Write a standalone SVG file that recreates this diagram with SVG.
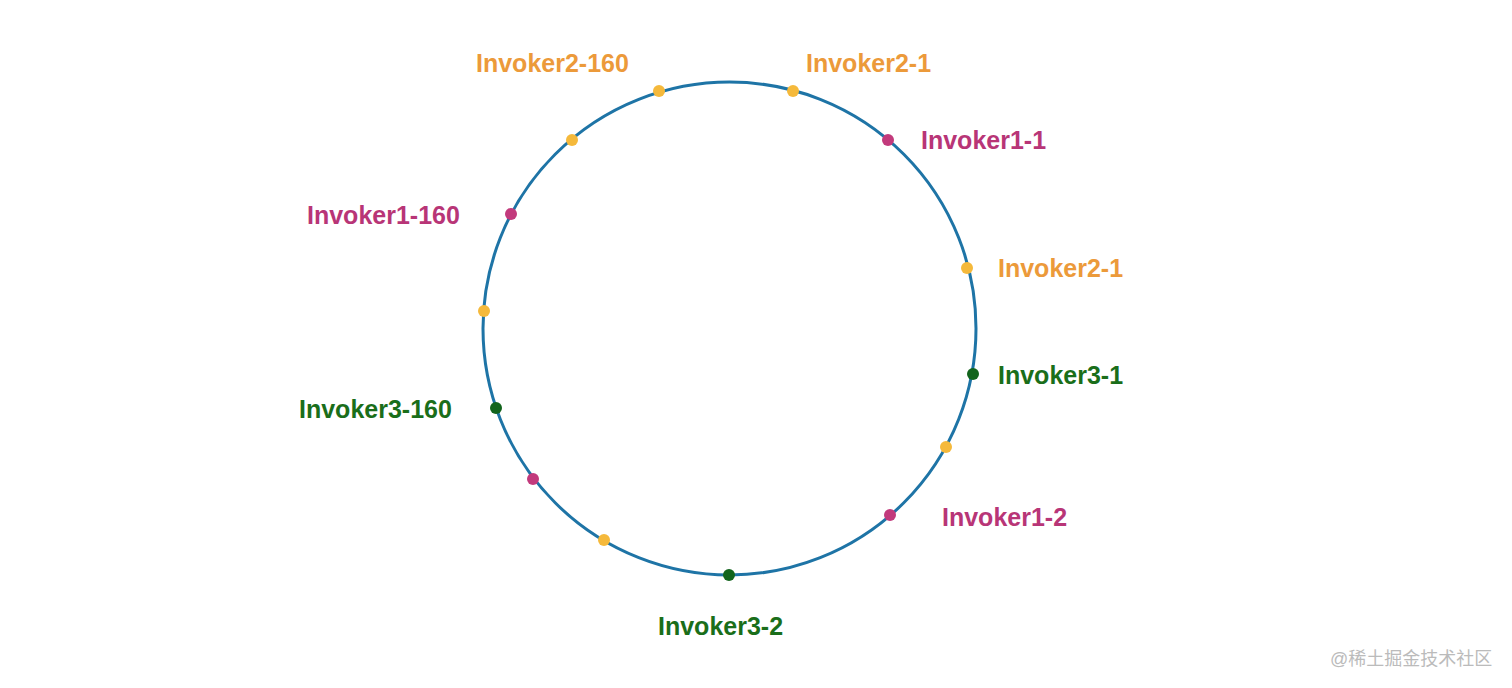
<svg xmlns="http://www.w3.org/2000/svg" width="1512" height="688" viewBox="0 0 1512 688">
<style>
text{font-family:"Liberation Sans",Arial,sans-serif;font-weight:bold;font-size:25px}
.o{fill:#EC9A3A}.m{fill:#B83577}.g{fill:#1A6E1A}
.do{fill:#F5B93B}.dm{fill:#C23A7C}.dg{fill:#12641C}
</style>
<rect width="1512" height="688" fill="#fff"/>
<g id="connectors"><circle cx="729.5" cy="328.5" r="246.5" fill="none" stroke="#1E74A6" stroke-width="3"/></g>
<g id="dots">
<circle class="do" cx="659" cy="91" r="6"/>
<circle class="do" cx="793" cy="91" r="6"/>
<circle class="dm" cx="888" cy="140" r="6"/>
<circle class="do" cx="572" cy="140" r="6"/>
<circle class="dm" cx="511" cy="214" r="6"/>
<circle class="do" cx="967" cy="268" r="6"/>
<circle class="do" cx="484" cy="311" r="6"/>
<circle class="dg" cx="973" cy="374" r="6"/>
<circle class="dg" cx="496" cy="408" r="6"/>
<circle class="do" cx="946" cy="447" r="6"/>
<circle class="dm" cx="533" cy="479" r="6"/>
<circle class="dm" cx="890" cy="515" r="6"/>
<circle class="do" cx="604" cy="540" r="6"/>
<circle class="dg" cx="729" cy="575" r="6"/>
</g>
<g id="labels">
<text class="o" x="476" y="72">Invoker2-160</text>
<text class="o" x="806" y="72">Invoker2-1</text>
<text class="m" x="921" y="149">Invoker1-1</text>
<text class="m" x="307" y="224">Invoker1-160</text>
<text class="o" x="998" y="277">Invoker2-1</text>
<text class="g" x="998" y="384">Invoker3-1</text>
<text class="g" x="299" y="418">Invoker3-160</text>
<text class="m" x="942" y="526">Invoker1-2</text>
<text class="g" x="658" y="635">Invoker3-2</text>
</g>
<text x="1330" y="665" style="font-weight:normal;font-size:18px;fill:#BBBBBB;font-family:'Liberation Sans','Noto Sans CJK SC',sans-serif">@稀土掘金技术社区</text>
</svg>
